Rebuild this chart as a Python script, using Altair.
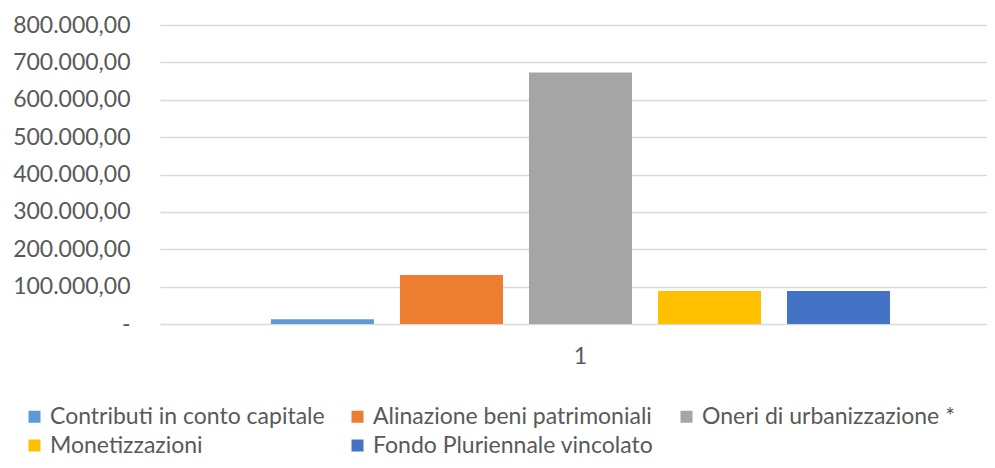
import altair as alt
import pandas as pd

series = [
    "Contributi in conto capitale",
    "Alinazione beni patrimoniali",
    "Oneri di urbanizzazione *",
    "Monetizzazioni",
    "Fondo Pluriennale vincolato",
]
values = [13000, 131000, 673000, 88500, 88500]
colors = ["#5B9BD5", "#ED7D31", "#A5A5A5", "#FFC000", "#4472C4"]
category = ["1"] * len(series)
y_ticks = [0, 100000, 200000, 300000, 400000, 500000, 600000, 700000, 800000]

df = pd.DataFrame({"cat": category, "serie": series, "valore": values})

FONT = "Lato"
TXT = "#595959"

chart = (
    alt.Chart(df)
    .mark_bar()
    .encode(
        x=alt.X(
            "cat:N",
            title=None,
            scale=alt.Scale(paddingInner=0, paddingOuter=0.0086, align=1),
            axis=alt.Axis(
                labelAngle=0,
                domain=False,
                ticks=False,
                labelFontSize=23,
                labelColor=TXT,
                labelFont=FONT,
                labelPadding=21,
            ),
        ),
        xOffset=alt.XOffset(
            "serie:N",
            sort=series,
            scale=alt.Scale(paddingInner=0.2016, paddingOuter=0.7517),
        ),
        y=alt.Y(
            "valore:Q",
            title=None,
            scale=alt.Scale(domain=[0, 800000], nice=False),
            axis=alt.Axis(
                values=y_ticks,
                labelExpr="datum.value == 0 ? '-\u00a0\u00a0\u00a0' : format(datum.value/1000, 'd') + '.000,00'",
                domain=False,
                ticks=False,
                grid=True,
                gridColor="#D9D9D9",
                gridWidth=1.5,
                labelPadding=30,
                labelFontSize=23,
                labelColor=TXT,
                labelFont=FONT,
            ),
        ),
        color=alt.Color(
            "serie:N",
            sort=series,
            scale=alt.Scale(domain=series, range=colors),
            legend=alt.Legend(
                title=None,
                orient="none",
                legendX=-137,
                legendY=380,
                columns=3,
                direction="horizontal",
                symbolType="square",
                symbolSize=144,
                symbolStrokeWidth=0,
                labelFontSize=23,
                labelFont=FONT,
                labelColor=TXT,
                labelLimit=400,
                columnPadding=21,
                rowPadding=5,
                symbolOffset=0,
            ),
        ),
    )
    .properties(
        width=827,
        height=299,
        padding={"left": 152, "top": 17, "right": 0, "bottom": 136},
        autosize="none",
    )
    .configure_view(stroke=None)
)

chart.save("out.html", embed_options={"renderer": "svg", "actions": False})
